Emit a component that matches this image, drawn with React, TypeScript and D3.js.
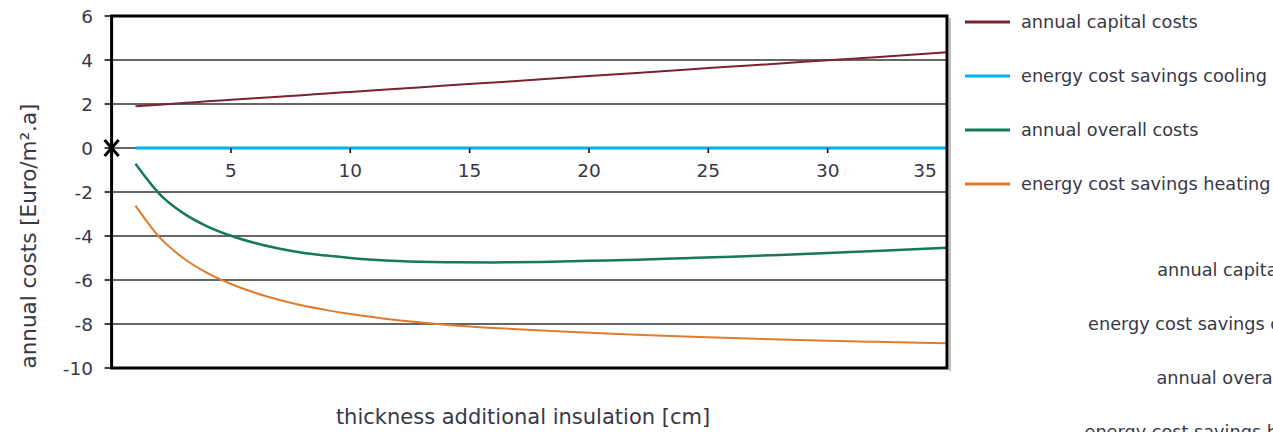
import React from "react";
import * as d3 from "d3";

const thickness = [1, 2, 3, 4, 5, 6, 7, 8, 9, 10, 12, 14, 16, 18, 20, 22, 24, 26, 28, 30, 32, 35];
const capitalCosts = [1.9, 1.97, 2.04, 2.12, 2.19, 2.26, 2.33, 2.4, 2.48, 2.55, 2.69, 2.84, 2.98, 3.12, 3.27, 3.41, 3.56, 3.7, 3.84, 3.99, 4.13, 4.35];
const coolingSavings = [0, 0, 0, 0, 0, 0, 0, 0, 0, 0, 0, 0, 0, 0, 0, 0, 0, 0, 0, 0, 0, 0];
const overallCosts = [-0.72, -2.08, -2.96, -3.56, -3.99, -4.32, -4.57, -4.76, -4.89, -5.0, -5.14, -5.19, -5.2, -5.18, -5.13, -5.08, -5.01, -4.94, -4.86, -4.77, -4.68, -4.53];
const heatingSavings = [-2.62, -4.05, -5.0, -5.68, -6.18, -6.58, -6.9, -7.16, -7.37, -7.55, -7.83, -8.03, -8.18, -8.3, -8.4, -8.49, -8.57, -8.64, -8.7, -8.76, -8.81, -8.88];

const seriesNames = ["annual capital costs", "energy cost savings cooling", "annual overall costs", "energy cost savings heating"];
const seriesColors = ["#7b2231", "#00b0f0", "#17785c", "#e07b2c"];
const seriesWidths = [2, 3, 2.5, 2];
const xTicks = [5, 10, 15, 20, 25, 30, 35];
const yTicks = [6, 4, 2, 0, -2, -4, -6, -8, -10];

const FONT = "'DejaVu Sans', Verdana, sans-serif";
const TXT = "#383848";

export default function App() {
  const left = 111.6, right = 947, top = 16, bottom = 368;
  const x = d3.scaleLinear().domain([0, 35]).range([left, right]);
  const y = d3.scaleLinear().domain([-10, 6]).range([bottom, top]);
  const allSeries = [capitalCosts, coolingSavings, overallCosts, heatingSavings];
  const line = d3
    .line<number>()
    .x((_, i) => x(thickness[i]))
    .y((d) => y(d))
    .curve(d3.curveMonotoneX);

  return (
    <svg width={1273} height={432} style={{ position: "absolute", left: 0, top: 0, background: "#fff" }}>
      {/* gridlines */}
      {yTicks.map((t) => (
        <line key={"g" + t} x1={left} x2={right} y1={y(t)} y2={y(t)} stroke="#333" strokeWidth={1.3} />
      ))}
      {/* y tick marks and labels */}
      {yTicks.map((t) => (
        <g key={"yt" + t}>
          <line x1={left - 7} x2={left} y1={y(t)} y2={y(t)} stroke="#000" strokeWidth={1.5} />
          <text x={93} y={y(t)} dy="0.36em" textAnchor="end" fontFamily={FONT} fontSize={18.5} fill={TXT}>
            {t}
          </text>
        </g>
      ))}
      {/* shadow */}
      <line x1={right + 3} x2={right + 3} y1={top + 2} y2={bottom + 3} stroke="#aaa" strokeWidth={1.5} />
      {/* series */}
      {allSeries.map((s, i) => (
        <path key={"s" + i} d={line(s) || ""} fill="none" stroke={seriesColors[i]} strokeWidth={seriesWidths[i]} />
      ))}
      {/* x ticks on zero line */}
      {xTicks.map((t) => (
        <line key={"xt" + t} x1={x(t)} x2={x(t)} y1={y(0)} y2={y(0) + 5} stroke="#000" strokeWidth={1.5} />
      ))}
      {xTicks.map((t) => (
        <text
          key={"xl" + t}
          x={t === 35 ? x(t) - 22 : x(t)}
          y={y(0) + 29}
          textAnchor="middle"
          fontFamily={FONT}
          fontSize={18.5}
          fill={TXT}
        >
          {t}
        </text>
      ))}
      {/* frame */}
      <rect x={left} y={top} width={right - left} height={bottom - top} fill="none" stroke="#000" strokeWidth={3} />
      {/* X marker at origin */}
      <g stroke="#000" strokeWidth={3}>
        <line x1={x(0) - 7} x2={x(0) + 7} y1={y(0) - 8} y2={y(0) + 8} />
        <line x1={x(0) - 7} x2={x(0) + 7} y1={y(0) + 8} y2={y(0) - 8} />
      </g>
      {/* axis titles */}
      <text
        transform={`translate(36,236) rotate(-90)`}
        textAnchor="middle"
        fontFamily={FONT}
        fontSize={21.5}
        fill={TXT}
      >
        annual costs [Euro/m².a]
      </text>
      <text x={523} y={424} textAnchor="middle" fontFamily={FONT} fontSize={21} fill={TXT}>
        thickness additional insulation [cm]
      </text>
      {/* legend */}
      {seriesNames.map((n, i) => (
        <g key={"lg" + i}>
          <line x1={965} x2={1010} y1={22 + i * 54} y2={22 + i * 54} stroke={seriesColors[i]} strokeWidth={3} />
          <text x={1021} y={22 + i * 54} dy="0.36em" fontFamily={FONT} fontSize={17.7} fill={TXT}>
            {n}
          </text>
        </g>
      ))}
      {/* second (clipped) legend */}
      {seriesNames.map((n, i) => (
        <text key={"l2" + i} x={1334} y={270 + i * 54} dy="0.36em" textAnchor="end" fontFamily={FONT} fontSize={17.7} fill={TXT}>
          {n}
        </text>
      ))}
    </svg>
  );
}
